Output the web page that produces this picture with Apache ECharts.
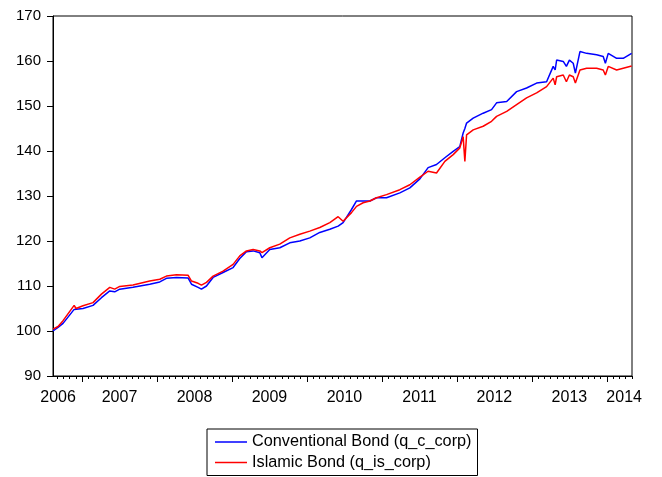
<!DOCTYPE html>
<html lang="en">
  <head>
    <meta charset="UTF-8" />
    <script src="https://cdn.jsdelivr.net/npm/echarts@6/dist/echarts.min.js"></script>
    <style>
      html,
      body {
        margin: 0;
        overflow: hidden;
        background: #fff;
      }
      #viewport {
        width: 662px;
        height: 477px;
      }
    </style>
  </head>
  <body>
    <div id="viewport"></div>
    <script>
      // dates as decimal years
      var dates = [
        2006.613, 2006.68, 2006.747, 2006.895, 2006.92, 2007.013, 2007.147,
        2007.259, 2007.37, 2007.436, 2007.503, 2007.68, 2007.903, 2008.037,
        2008.126, 2008.26, 2008.414, 2008.46, 2008.548, 2008.593, 2008.66,
        2008.748, 2008.881, 2009.015, 2009.104, 2009.193, 2009.282, 2009.371,
        2009.4, 2009.504, 2009.638, 2009.771, 2009.905, 2010.038, 2010.171,
        2010.305, 2010.416, 2010.482, 2010.594, 2010.661, 2010.749, 2010.839,
        2010.928, 2011.061, 2011.239, 2011.372, 2011.506, 2011.616, 2011.728,
        2011.839, 2011.95, 2012.039, 2012.083, 2012.106, 2012.129, 2012.217,
        2012.35, 2012.462, 2012.529, 2012.664, 2012.796, 2012.929, 2013.063,
        2013.196, 2013.284, 2013.31, 2013.33, 2013.418, 2013.46, 2013.5,
        2013.551, 2013.58, 2013.641, 2013.73, 2013.863, 2013.951, 2013.98,
        2014.018, 2014.13, 2014.218, 2014.33
      ];
      var conventional = [
        100.0, 100.8, 101.7, 104.8, 104.4, 105.0, 105.7, 107.4, 108.9, 108.7,
        109.3, 109.7, 110.4, 110.9, 111.7, 111.9, 111.8, 110.4, 109.7, 109.3,
        110.0, 111.9, 113.0, 114.1, 116.1, 117.6, 117.8, 117.4, 116.3, 118.1,
        118.5, 119.6, 120.0, 120.7, 121.9, 122.6, 123.3, 124.1, 127.0, 128.9,
        128.9, 128.9, 129.6, 129.6, 130.7, 131.8, 133.8, 136.3, 137.0, 138.5,
        139.9, 141.0, 144.0, 145.0, 146.2, 147.3, 148.4, 149.2, 150.7, 151.0,
        153.2, 154.0, 155.1, 155.4, 158.8, 158.0, 160.2, 159.9, 158.8, 160.2,
        159.5, 157.3, 162.1, 161.7, 161.4, 161.0, 159.5, 161.7, 160.6, 160.6,
        161.7
      ];
      var islamic = [
        100.4, 101.0, 102.3, 105.7, 105.0, 105.6, 106.3, 108.2, 109.7, 109.3,
        109.9, 110.2, 111.1, 111.5, 112.2, 112.5, 112.4, 111.1, 110.6, 110.2,
        110.8, 112.2, 113.3, 114.8, 116.7, 117.8, 118.1, 117.8, 117.4, 118.5,
        119.3, 120.7, 121.5, 122.2, 123.0, 124.1, 125.4, 124.4, 126.3, 127.7,
        128.5, 128.9, 129.6, 130.3, 131.4, 132.5, 134.2, 135.5, 135.1, 137.7,
        139.2, 140.7, 143.2, 137.7, 143.6, 144.7, 145.5, 146.6, 147.7, 148.8,
        150.3, 151.8, 152.9, 154.3, 156.2, 154.7, 156.5, 156.9, 155.4, 156.9,
        156.5, 155.1, 158.0, 158.4, 158.4, 158.0, 156.9, 158.8, 158.0, 158.4,
        158.9
      ];
      var yearTicks = [2007, 2008, 2009, 2010, 2011, 2012, 2013, 2014];
      var yearLabelPos = [
        2006.68, 2007.5, 2008.5, 2009.5, 2010.5, 2011.5, 2012.5, 2013.5, 2014.23
      ];
      var seriesNames = [
        'Conventional Bond (q_c_corp)',
        'Islamic Bond (q_is_corp)'
      ];

      var xMin = 2006.613;
      var xMax = 2014.335;

      // monthly minor ticks
      var monthTicks = [];
      for (var y = 2006; y <= 2014; y++) {
        for (var m = 0; m < 12; m++) {
          var v = y + m / 12;
          if (v > xMin && v < xMax && m !== 0) {
            monthTicks.push(v);
          }
        }
      }

      function pairs(xs, ys) {
        return xs.map(function (x, i) {
          return [x, ys[i]];
        });
      }

      var font = 'Arial, "Liberation Sans", sans-serif';
      var myChart = echarts.init(document.getElementById('viewport'));

      var option = {
        animation: false,
        backgroundColor: '#fff',
        grid: {
          left: 53,
          top: 16,
          right: 30,
          bottom: 101,
          show: true,
          borderColor: '#000',
          borderWidth: 1
        },
        xAxis: [
          {
            type: 'value',
            min: xMin,
            max: xMax,
            position: 'bottom',
            axisLine: { lineStyle: { color: '#000', width: 1 } },
            axisTick: {
              customValues: yearTicks,
              length: 6,
              lineStyle: { color: '#000' }
            },
            axisLabel: {
              customValues: yearLabelPos,
              formatter: function (v) {
                return String(Math.floor(v));
              },
              color: '#000',
              fontFamily: font,
              fontSize: 16,
              margin: 14
            },
            splitLine: { show: false }
          },
          {
            type: 'value',
            min: xMin,
            max: xMax,
            position: 'bottom',
            axisLine: { show: false },
            axisTick: {
              customValues: monthTicks,
              length: 3,
              lineStyle: { color: '#000' }
            },
            axisLabel: { show: false },
            splitLine: { show: false }
          }
        ],
        yAxis: {
          type: 'value',
          min: 90,
          max: 170,
          interval: 10,
          axisLine: { show: true, lineStyle: { color: '#000', width: 1 } },
          axisTick: { show: true, length: 6, lineStyle: { color: '#000' } },
          axisLabel: {
            color: '#000',
            fontFamily: font,
            fontSize: 15,
            margin: 12
          },
          splitLine: { show: false }
        },
        legend: {
          orient: 'vertical',
          left: 207,
          top: 429,
          borderColor: '#000',
          borderWidth: 1,
          borderRadius: 0,
          padding: [5, 6, 5, 8],
          icon: 'rect',
          itemWidth: 32,
          itemHeight: 1.5,
          itemGap: 4.5,
          textStyle: { color: '#000', fontFamily: font, fontSize: 16.25 },
          data: seriesNames
        },
        series: [
          {
            name: seriesNames[0],
            type: 'line',
            symbol: 'none',
            xAxisIndex: 0,
            data: pairs(dates, conventional),
            lineStyle: { color: '#0000ff', width: 1.5 },
            itemStyle: { color: '#0000ff' }
          },
          {
            name: seriesNames[1],
            type: 'line',
            symbol: 'none',
            xAxisIndex: 0,
            data: pairs(dates, islamic),
            lineStyle: { color: '#ff0000', width: 1.5 },
            itemStyle: { color: '#ff0000' }
          }
        ]
      };

      myChart.setOption(option);
    </script>
  </body>
</html>
